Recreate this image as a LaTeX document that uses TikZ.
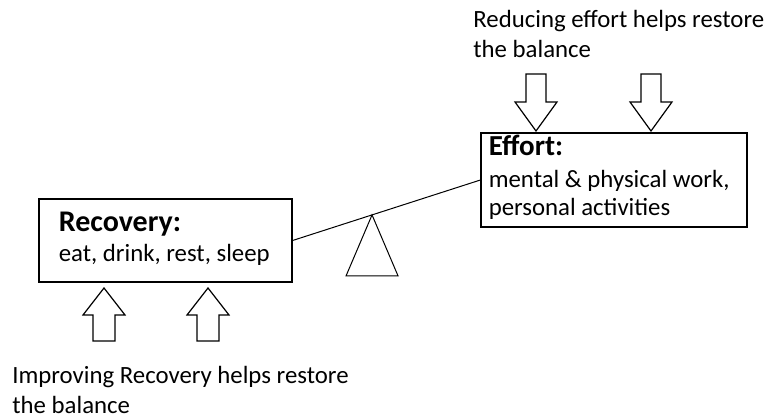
\documentclass[tikz,border=0pt]{standalone}
\usepackage{fontspec}
\setmainfont{Carlito}
\usetikzlibrary{calc}

\begin{document}
\begin{tikzpicture}[x=0.5pt,y=-0.5pt]

	\tikzset{state box/.style={draw, line width=0.6pt, inner sep=0pt}};
	\tikzset{box head/.style={font=\bfseries\fontsize{15}{17}\selectfont, anchor=base west, inner sep=0pt}};
	\tikzset{box body/.style={font=\fontsize{12.4}{14}\selectfont, anchor=base west, inner sep=0pt, align=left}};
	\tikzset{note text/.style={font=\fontsize{12.4}{15}\selectfont, anchor=base west, inner sep=0pt, align=left}};
	\tikzset{block arrow/.style={draw, line width=0.6pt, line join=miter}};
	\tikzset{beam line/.style={line width=0.5pt}};

	\useasboundingbox (0,0) rectangle (766,417);

	% the two sides of the balance
	\node[state box, minimum width=126.5pt, minimum height=41.5pt] (recovery) at (165.5,240.5) {};
	\node[state box, minimum width=133pt, minimum height=47pt] (effort) at (614,180) {};

	\node[box head] (recoveryhead) at ([shift={(20,33)}]recovery.north west) {Recovery:};
	\node[box body] (recoverybody) at ([shift={(0,30)}]recoveryhead.base west) {eat, drink, rest, sleep};

	\node[box head, font=\bfseries\fontsize{14.5}{16}\selectfont] (efforthead) at ([shift={(8,23)}]effort.north west) {Effort:};
	% base of a two line node sits on its last line
	\node[box body] (effortbody) at ([shift={(0,60)}]efforthead.base west) {mental \& physical work,\\personal activities};

	% beam and pivot
	\draw[beam line] (recovery.east) -- (effort.west);
	\coordinate (pivot) at ($(recovery.east)!0.423!(effort.west)$);
	\draw[beam line] (pivot) -- ++(-26,61) -- ++(52,0) -- cycle;

	% block arrows
	\foreach \x in {104,208}
		\draw[block arrow, shift={(\x,288)}] (0,0) -- (21,27) -- (11,27) -- (11,53) -- (-11,53) -- (-11,27) -- (-21,27) -- cycle;
	\foreach \x in {536,651}
		\draw[block arrow, shift={(\x,131)}] (0,0) -- (21,-29) -- (10,-29) -- (10,-57) -- (-10,-57) -- (-10,-29) -- (-21,-29) -- cycle;

	% notes
	\node[note text] (reducenote) at (473,58) {Reducing effort helps restore\\the balance};
	\node[note text] (improvenote) at (12,413) {Improving Recovery helps restore\\the balance};

\end{tikzpicture}
\end{document}
